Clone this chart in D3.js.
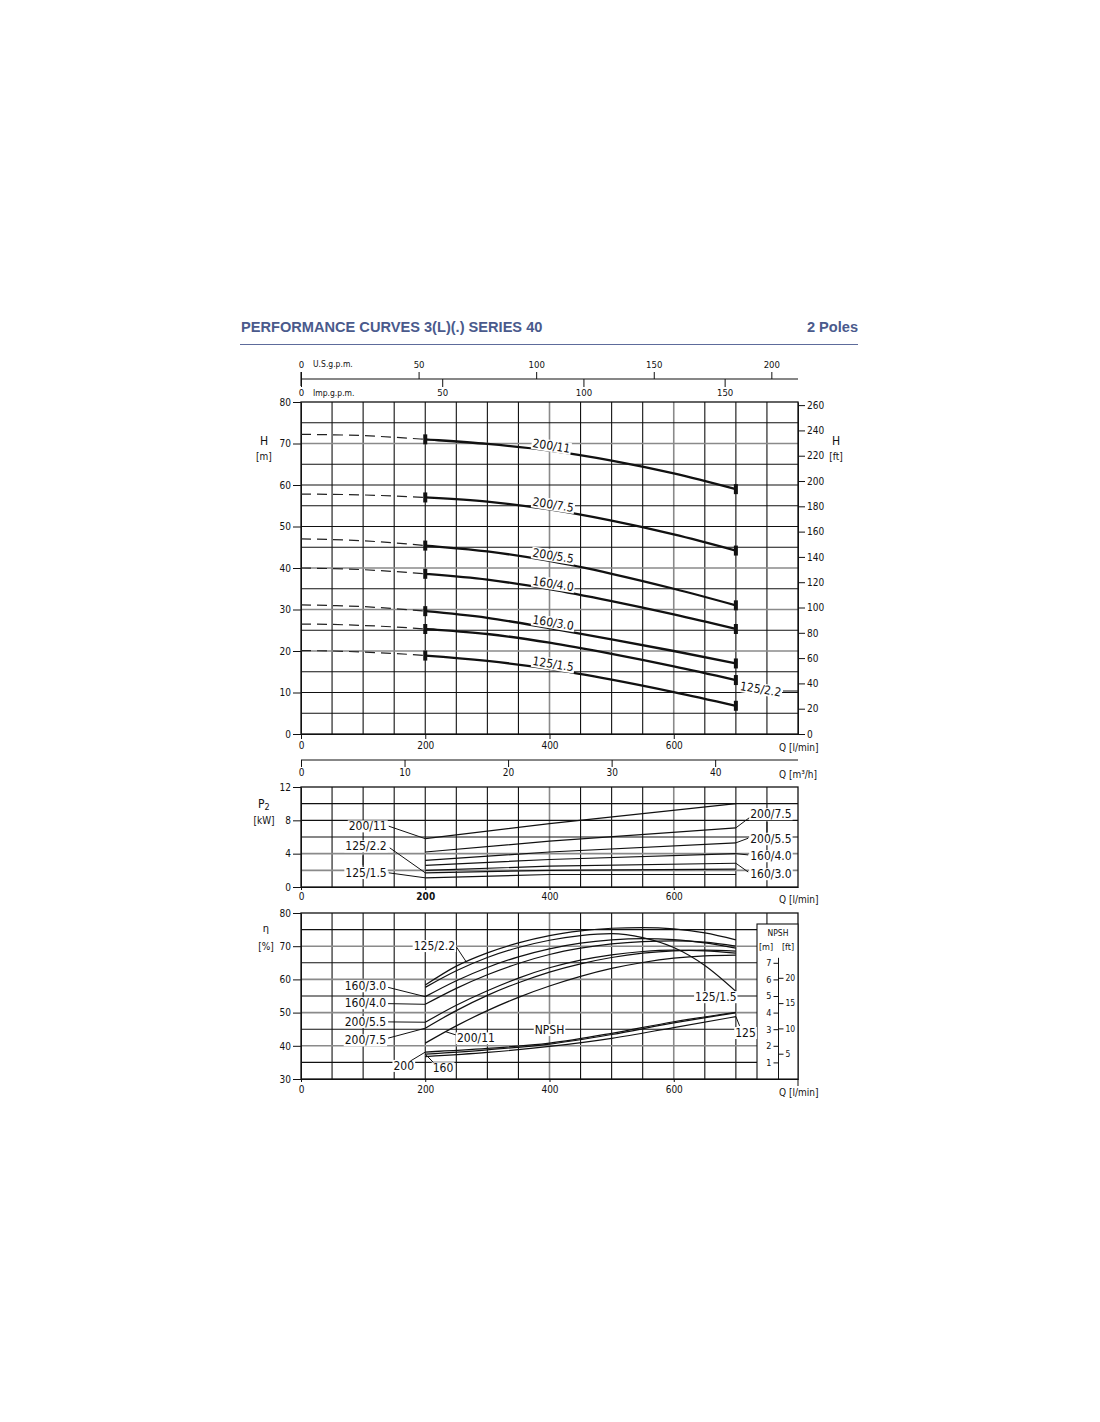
<!DOCTYPE html>
<html>
<head>
<meta charset="utf-8">
<script src="https://cdn.jsdelivr.net/npm/d3@7"></script>
<style>
  body { margin: 0; background: #fff; }
  svg text { font-family: "DejaVu Sans Condensed", "DejaVu Sans", sans-serif; fill: #111; }
  .title { font-family: "Liberation Sans", Arial, sans-serif; font-weight: bold; fill: #4a5a8c; }
</style>
</head>
<body>
<svg id="chart" width="1100" height="1422"></svg>
<script>
// ---- data ----
// head H [m] vs Q [l/min]
const qHead = [0, 50, 100, 150, 200, 300, 400, 500, 600, 700];
const head_200_11 = [72.2, 72.1, 71.9, 71.5, 71.0, 69.9, 68.3, 65.9, 62.8, 59.0];
const head_200_75 = [57.8, 57.75, 57.6, 57.35, 57.0, 56.0, 54.1, 51.4, 48.1, 44.2];
const head_200_55 = [47.0, 46.85, 46.55, 46.05, 45.4, 44.0, 41.7, 38.6, 35.0, 31.0];
const head_160_40 = [40.0, 39.85, 39.6, 39.15, 38.6, 37.2, 34.9, 32.0, 28.8, 25.3];
const head_160_30 = [31.1, 30.95, 30.7, 30.2, 29.6, 28.0, 25.5, 22.8, 20.0, 17.0];
const head_125_22 = [26.5, 26.4, 26.15, 25.8, 25.3, 24.1, 22.0, 19.3, 16.3, 13.0];
const head_125_15 = [20.1, 20.0, 19.75, 19.4, 18.9, 17.6, 15.7, 13.1, 10.1, 6.8];

// power P2 [kW]
const qPower = [200, 400, 700];
const power_200_11 = [5.8, 7.6, 10.0];
const power_200_75 = [4.2, 5.5, 7.1];
const power_200_55 = [3.2, 4.2, 5.3];
const power_160_40 = [2.6, 3.3, 4.0];
const power_160_30 = [2.0, 2.5, 2.85];
const power_125_22 = [1.7, 2.0, 2.15];
const power_125_15 = [1.1, 1.5, 1.5];

// efficiency [%]
const qEff = [200, 250, 300, 350, 400, 450, 500, 550, 600, 650, 700];
const eff_125_22 = [58.3, 64.0, 68.0, 71.0, 73.2, 74.6, 75.4, 75.6, 75.2, 74.0, 71.9];
const eff_125_15 = [57.6, 62.6, 66.6, 69.6, 71.8, 73.2, 73.8, 72.6, 69.6, 64.2, 56.4];
const eff_160_30 = [54.8, 59.6, 63.6, 66.8, 69.2, 70.9, 71.9, 72.3, 72.0, 71.0, 69.4];
const eff_160_40 = [52.5, 57.3, 61.4, 64.8, 67.5, 69.4, 70.7, 71.4, 71.6, 71.2, 70.0];
const eff_200_55 = [47.1, 52.2, 56.6, 60.4, 63.5, 65.8, 67.4, 68.4, 68.8, 68.6, 67.9];
const eff_200_75 = [45.3, 50.6, 55.2, 59.0, 62.2, 64.7, 66.6, 67.9, 68.6, 68.8, 68.5];
const eff_200_11 = [40.8, 46.0, 50.6, 54.6, 58.0, 60.9, 63.3, 65.1, 66.4, 67.1, 67.3];

// NPSH [m]
const qNpsh = [200, 300, 400, 500, 600, 700];
const npsh_200 = [1.62, 1.84, 2.16, 2.75, 3.45, 4.02];
const npsh_160 = [1.5, 1.76, 2.1, 2.68, 3.38, 3.98];
const npsh_125 = [1.35, 1.6, 1.96, 2.45, 3.1, 3.76];

// tick labels
const qTicks = [0, 200, 400, 600];
const usTicks = [0, 50, 100, 150, 200];
const impTicks = [0, 50, 100, 150];
const m3hTicks = [0, 10, 20, 30, 40];
const headTicks = [0, 10, 20, 30, 40, 50, 60, 70, 80];
const ftTicks = d3.range(0, 261, 20);
const powerTicks = [0, 4, 8, 12];
const effTicks = [30, 40, 50, 60, 70, 80];
const npshMTicks = [1, 2, 3, 4, 5, 6, 7];
const npshFtTicks = [5, 10, 15, 20];

const pumps = ["200/11", "200/7.5", "200/5.5", "160/4.0", "160/3.0", "125/2.2", "125/1.5"];
const headData = [head_200_11, head_200_75, head_200_55, head_160_40, head_160_30, head_125_22, head_125_15];
const powerData = [power_200_11, power_200_75, power_200_55, power_160_40, power_160_30, power_125_22, power_125_15];
const effData = [eff_200_11, eff_200_75, eff_200_55, eff_160_40, eff_160_30, eff_125_22, eff_125_15];

// ---- scales ----
const x = d3.scaleLinear().domain([0, 800]).range([301, 798]);
const xUS = d3.scaleLinear().domain([0, 800 / 3.78541]).range([301, 798]);
const xImp = d3.scaleLinear().domain([0, 800 / 4.54609]).range([301, 798]);
const xM3h = d3.scaleLinear().domain([0, 48]).range([301, 798]);

const yH = d3.scaleLinear().domain([0, 80]).range([734, 402]);
const yFt = d3.scaleLinear().domain([0, 80 * 3.28084]).range([734, 402]);
const yP = d3.scaleLinear().domain([0, 12]).range([887, 787]);
const yE = d3.scaleLinear().domain([30, 80]).range([1079, 913]);
const yN = d3.scaleLinear().domain([0, 10]).range([1079, 913]);
const yNft = d3.scaleLinear().domain([0, 10 * 3.28084]).range([1079, 913]);

const svg = d3.select('#chart');

function valueAt(qs, vs, q) {
    for (let i = 1; i < qs.length; i++) {
        if (q <= qs[i]) {
            const t = (q - qs[i - 1]) / (qs[i] - qs[i - 1]);
            return vs[i - 1] + t * (vs[i] - vs[i - 1]);
        }
    }
    return vs[vs.length - 1];
}

// ---- title ----
svg.append('text').attr('class', 'title').attr('x', 241).attr('y', 332)
    .attr('font-size', 14.6).text('PERFORMANCE CURVES 3(L)(.) SERIES 40');
svg.append('text').attr('class', 'title').attr('x', 858).attr('y', 332)
    .attr('font-size', 14.6).attr('text-anchor', 'end').text('2 Poles');
svg.append('line').attr('x1', 240).attr('x2', 858).attr('y1', 344.5).attr('y2', 344.5)
    .attr('stroke', '#5d6b9b').attr('stroke-width', 1);

// ---- grids ----
function drawGrid(y, lo, hi, step, majors) {
    const g = svg.append('g');
    d3.range(50, 800, 50).forEach(q => {
        const major = (q == 400 || q == 600);
        g.append('line').attr('x1', x(q)).attr('x2', x(q)).attr('y1', y(lo)).attr('y2', y(hi))
            .attr('stroke', major ? '#8a8a8a' : '#111').attr('stroke-width', major ? 1.6 : 1.1);
    });
    d3.range(lo + step, hi, step).forEach(v => {
        const major = majors.includes(v);
        g.append('line').attr('x1', x(0)).attr('x2', x(800)).attr('y1', y(v)).attr('y2', y(v))
            .attr('stroke', major ? '#8a8a8a' : '#111').attr('stroke-width', major ? 1.6 : 1.1);
    });
    g.append('rect').attr('x', x(0)).attr('y', y(hi)).attr('width', x(800) - x(0)).attr('height', y(lo) - y(hi))
        .attr('fill', 'none').attr('stroke', '#111').attr('stroke-width', 1.3);
    return g;
}

drawGrid(yH, 0, 80, 5, [20, 30, 40, 70]);
drawGrid(yP, 0, 12, 2, [2, 4]);
drawGrid(yE, 30, 80, 5, [40, 50, 60, 70]);

function styleAxis(g, size) {
    g.selectAll('text').attr('font-size', size || 10).attr('fill', '#111');
    g.selectAll('line').attr('stroke', '#111');
    g.select('.domain').attr('stroke', '#111');
}

// ---- top flow axes ----
const topY = 379;
svg.append('line').attr('x1', 301).attr('x2', 798).attr('y1', topY).attr('y2', topY)
    .attr('stroke', '#111').attr('stroke-width', 1.1);
svg.append('line').attr('x1', 301).attr('x2', 301).attr('y1', topY - 7).attr('y2', topY + 7)
    .attr('stroke', '#111').attr('stroke-width', 1.1);
const usAxis = svg.append('g').attr('transform', 'translate(0,' + topY + ')')
    .call(d3.axisTop(xUS).tickValues(usTicks).tickSize(7).tickSizeOuter(0).tickPadding(4));
usAxis.select('.domain').remove();
styleAxis(usAxis, 9.5);
const impAxis = svg.append('g').attr('transform', 'translate(0,' + topY + ')')
    .call(d3.axisBottom(xImp).tickValues(impTicks).tickSize(8).tickSizeOuter(0).tickPadding(2));
impAxis.select('.domain').remove();
styleAxis(impAxis, 9.5);
svg.append('text').attr('x', 313).attr('y', 367).attr('font-size', 8.5).text('U.S.g.p.m.');
svg.append('text').attr('x', 313).attr('y', 396).attr('font-size', 8.5).text('Imp.g.p.m.');

// ---- head chart axes ----
const hLeft = svg.append('g').attr('transform', 'translate(301,0)')
    .call(d3.axisLeft(yH).tickValues(headTicks).tickSize(8).tickSizeOuter(0).tickPadding(2));
styleAxis(hLeft);
const hRight = svg.append('g').attr('transform', 'translate(798,0)')
    .call(d3.axisRight(yFt).tickValues(ftTicks).tickSize(7).tickSizeOuter(0).tickPadding(2));
styleAxis(hRight);
const hBottom = svg.append('g').attr('transform', 'translate(0,734)')
    .call(d3.axisBottom(x).tickValues(qTicks).tickSize(5).tickSizeOuter(0).tickPadding(3));
styleAxis(hBottom);
svg.append('text').attr('x', 779).attr('y', 751).attr('font-size', 10).text('Q [l/min]');
svg.append('text').attr('x', 264).attr('y', 445).attr('font-size', 12).attr('text-anchor', 'middle').text('H');
svg.append('text').attr('x', 264).attr('y', 460).attr('font-size', 10).attr('text-anchor', 'middle').text('[m]');
svg.append('text').attr('x', 836).attr('y', 445).attr('font-size', 12).attr('text-anchor', 'middle').text('H');
svg.append('text').attr('x', 836).attr('y', 460).attr('font-size', 10).attr('text-anchor', 'middle').text('[ft]');

// ---- m3/h axis ----
const m3Axis = svg.append('g').attr('transform', 'translate(0,760)')
    .call(d3.axisBottom(xM3h).tickValues(m3hTicks).tickSize(7).tickSizeOuter(0).tickPadding(2));
m3Axis.select('.domain').attr('d', 'M301,0H798');
styleAxis(m3Axis);
svg.append('text').attr('x', 779).attr('y', 778).attr('font-size', 10).text('Q [m³/h]');

// ---- power axes ----
const pLeft = svg.append('g').attr('transform', 'translate(301,0)')
    .call(d3.axisLeft(yP).tickValues(powerTicks).tickSize(8).tickSizeOuter(0).tickPadding(2));
styleAxis(pLeft);
const pBottom = svg.append('g').attr('transform', 'translate(0,887)')
    .call(d3.axisBottom(x).tickValues(qTicks).tickSize(3).tickSizeOuter(0).tickPadding(3));
styleAxis(pBottom);
pBottom.selectAll('text').filter(d => d == 200).attr('font-weight', 'bold');
svg.append('text').attr('x', 779).attr('y', 903).attr('font-size', 10).text('Q [l/min]');
const p2 = svg.append('text').attr('x', 258).attr('y', 808).attr('font-size', 12);
p2.append('tspan').text('P');
p2.append('tspan').attr('font-size', 9).attr('dy', 2).text('2');
svg.append('text').attr('x', 264).attr('y', 824).attr('font-size', 10).attr('text-anchor', 'middle').text('[kW]');

// ---- efficiency axes ----
const eLeft = svg.append('g').attr('transform', 'translate(301,0)')
    .call(d3.axisLeft(yE).tickValues(effTicks).tickSize(8).tickSizeOuter(0).tickPadding(2));
styleAxis(eLeft);
const eBottom = svg.append('g').attr('transform', 'translate(0,1079)')
    .call(d3.axisBottom(x).tickValues(qTicks).tickSize(3).tickSizeOuter(0).tickPadding(4));
styleAxis(eBottom);
svg.append('line').attr('x1', 798).attr('x2', 798).attr('y1', 1079).attr('y2', 1086).attr('stroke', '#111');
svg.append('text').attr('x', 779).attr('y', 1096).attr('font-size', 10).text('Q [l/min]');
svg.append('text').attr('x', 266).attr('y', 932).attr('font-size', 11).attr('text-anchor', 'middle').text('η');
svg.append('text').attr('x', 266).attr('y', 950).attr('font-size', 10).attr('text-anchor', 'middle').text('[%]');

// ---- NPSH box ----
svg.append('rect').attr('x', 757).attr('y', 924).attr('width', 41).attr('height', 155)
    .attr('fill', '#fff').attr('stroke', '#111').attr('stroke-width', 1.1);
const nAxis = svg.append('g').attr('transform', 'translate(778.5,0)')
    .call(d3.axisLeft(yN).tickValues(npshMTicks).tickSize(5).tickSizeOuter(0).tickPadding(2));
nAxis.select('.domain').attr('d', 'M0,' + yN(7.3) + 'V1079');
styleAxis(nAxis, 9);
const nFt = svg.append('g').attr('transform', 'translate(778.5,0)')
    .call(d3.axisRight(yNft).tickValues(npshFtTicks).tickSize(5).tickSizeOuter(0).tickPadding(2));
nFt.select('.domain').remove();
styleAxis(nFt, 8.5);
svg.append('text').attr('x', 778).attr('y', 936).attr('font-size', 8.5).attr('text-anchor', 'middle').text('NPSH');
svg.append('text').attr('x', 766).attr('y', 950).attr('font-size', 9).attr('text-anchor', 'middle').text('[m]');
svg.append('text').attr('x', 788).attr('y', 950).attr('font-size', 9).attr('text-anchor', 'middle').text('[ft]');

// ---- head curves: one smooth path, dashed left of Q=200, solid right of it ----
const defs = svg.append('defs');
defs.append('clipPath').attr('id', 'clipLeft').append('rect')
    .attr('x', 0).attr('y', 0).attr('width', x(200)).attr('height', 1422);
defs.append('clipPath').attr('id', 'clipRight').append('rect')
    .attr('x', x(200)).attr('y', 0).attr('width', 1100 - x(200)).attr('height', 1422);

const lineH = d3.line().x(d => x(d[0])).y(d => yH(d[1])).curve(d3.curveMonotoneX);
headData.forEach((vals, i) => {
    const d = lineH(qHead.map((q, j) => [q, vals[j]]));
    svg.append('path').attr('d', d).attr('clip-path', 'url(#clipLeft)')
        .attr('fill', 'none').attr('stroke', '#222').attr('stroke-width', 1.2).attr('stroke-dasharray', '10,6');
    svg.append('path').attr('d', d).attr('clip-path', 'url(#clipRight)')
        .attr('fill', 'none').attr('stroke', '#111').attr('stroke-width', 2.3);
    [200, 700].forEach(q => {
        svg.append('rect').attr('x', x(q) - 2).attr('y', yH(valueAt(qHead, vals, q)) - 5)
            .attr('width', 4).attr('height', 10).attr('fill', '#111');
    });
});

// text on a white box, so grid lines stop at the label
function label(xp, yp, txt, opts) {
    opts = opts || {};
    const g = svg.append('g')
        .attr('transform', 'translate(' + xp + ',' + yp + ')' + (opts.rotate ? ' rotate(' + opts.rotate + ')' : ''));
    const bg = g.append('rect').attr('fill', '#fff');
    const t = g.append('text').attr('dy', '0.35em')
        .attr('font-size', opts.size || 12).attr('text-anchor', opts.anchor || 'start').text(txt);
    const b = t.node().getBBox();
    bg.attr('x', b.x - 1).attr('y', b.y + 1).attr('width', b.width + 2).attr('height', b.height - 2);
    return g;
}
function leader(x1, y1, x2, y2) {
    svg.append('line').attr('x1', x1).attr('y1', y1).attr('x2', x2).attr('y2', y2)
        .attr('stroke', '#111').attr('stroke-width', 1);
}

// head labels sit just above each curve near Q = 373
pumps.forEach((name, i) => {
    if (name == '125/2.2') return;
    const yc = yH(valueAt(qHead, headData[i], 373));
    label(x(373), yc - 6, name, { rotate: 9 });
});
label(x(707), yH(11.6), '125/2.2', { rotate: 9 });
leader(783, 691, 798, 691);

// ---- power curves ----
const lineP = d3.line().x(d => x(d[0])).y(d => yP(d[1]));
powerData.forEach(vals => {
    svg.append('path').attr('d', lineP(qPower.map((q, j) => [q, vals[j]])))
        .attr('fill', 'none').attr('stroke', '#111').attr('stroke-width', 1.2);
});
const xl = x(138);
label(xl, yP(7.3), '200/11', { anchor: 'end' });
leader(xl + 2, yP(7.3), x(200), yP(power_200_11[0]));
label(xl, yP(4.9), '125/2.2', { anchor: 'end' });
leader(xl + 3, yP(4.7), x(200), yP(power_125_22[0]));
leader(363, yP(3.8), 363, yP(2.6));
label(xl, yP(1.7), '125/1.5', { anchor: 'end' });
leader(xl + 2, yP(1.7), x(200), yP(power_125_15[0]));

const xr = x(723);
label(xr, yP(8.76), '200/7.5');
leader(xr - 1, yP(8.3), x(700), yP(power_200_75[2]));
leader(767, yP(7.8), 767, yP(6.6));
label(xr, yP(5.76), '200/5.5');
leader(xr - 2, yP(5.85), x(700), yP(power_200_55[2]));
label(xr, yP(3.72), '160/4.0');
leader(xr - 2, yP(3.85), x(700), yP(power_160_40[2]));
label(xr, yP(1.56), '160/3.0');
leader(xr - 2, yP(1.8), x(700), yP(power_160_30[2]));

// ---- efficiency + NPSH curves ----
const lineE = d3.line().x(d => x(d[0])).y(d => yE(d[1])).curve(d3.curveMonotoneX);
effData.forEach(vals => {
    svg.append('path').attr('d', lineE(qEff.map((q, j) => [q, vals[j]])))
        .attr('fill', 'none').attr('stroke', '#111').attr('stroke-width', 1.2);
});
const lineN = d3.line().x(d => x(d[0])).y(d => yN(d[1])).curve(d3.curveMonotoneX);
[npsh_200, npsh_160, npsh_125].forEach(vals => {
    svg.append('path').attr('d', lineN(qNpsh.map((q, j) => [q, vals[j]])))
        .attr('fill', 'none').attr('stroke', '#111').attr('stroke-width', 1.2);
});

const xe = x(137);
label(xe, yE(58.0), '160/3.0', { anchor: 'end' });
leader(xe + 2, yE(57.6), x(200), yE(eff_160_30[0]));
label(xe, yE(52.9), '160/4.0', { anchor: 'end' });
leader(xe + 2, yE(52.7), x(200), yE(eff_160_40[0]));
label(xe, yE(47.2), '200/5.5', { anchor: 'end' });
leader(xe + 2, yE(47.2), x(200), yE(eff_200_55[0]));
label(xe, yE(41.7), '200/7.5', { anchor: 'end' });
leader(xe + 2, yE(42.3), x(200), yE(eff_200_75[0]));
label(x(248), yE(70.1), '125/2.2', { anchor: 'end' });
leader(x(250), yE(69.8), x(266), yE(valueAt(qEff, eff_125_22, 266)));
label(x(251), yE(42.3), '200/11');
leader(x(249), yE(43.3), x(233), yE(valueAt(qEff, eff_200_11, 233)));
label(x(182), yE(34.0), '200', { anchor: 'end' });
leader(x(176), yE(35.4), x(200), yN(npsh_200[0]));
label(x(212), yE(33.3), '160');
leader(x(213), yE(35.0), x(200), yN(npsh_160[0]));
label(x(400), yE(44.8), 'NPSH', { anchor: 'middle' });
label(x(701), yE(54.7), '125/1.5', { anchor: 'end' });
label(x(699), yE(43.9), '125');
leader(x(706), yE(46.0), x(700), yN(npsh_125[5]));
</script>
</body>
</html>
